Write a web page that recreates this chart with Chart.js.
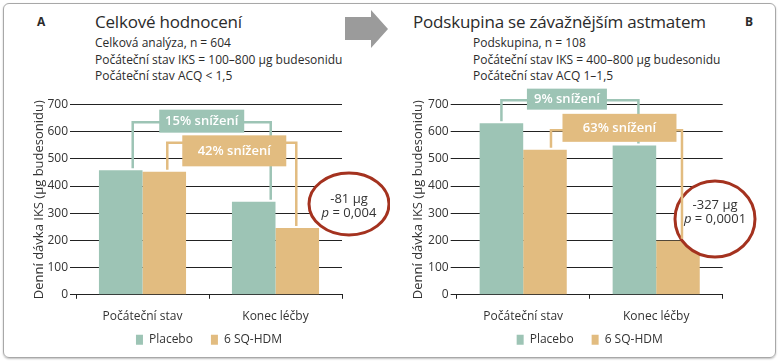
<!DOCTYPE html>
<html>
<head>
<meta charset="utf-8">
<script src="https://cdn.jsdelivr.net/npm/chart.js@4"></script>
<style>
  html, body { margin:0; padding:0; background:#fff; }
  body { width:780px; height:362px; position:relative; overflow:hidden; font-family:"Open Sans", sans-serif; color:#2b2b2b; }
  .frame { position:absolute; left:3px; top:3px; width:771px; height:353px; border:1px solid #a8a8a8; border-radius:6px; box-shadow:0 1px 2px rgba(0,0,0,.25); }
  .panel { position:absolute; top:0; width:390px; height:362px; }
  .letter { position:absolute; top:13px; font-size:12px; font-weight:700; line-height:18px; }
  .title { position:absolute; top:11px; font-size:17px; line-height:22px; white-space:nowrap; letter-spacing:-0.2px; }
  .sub { position:absolute; top:35px; font-size:12px; line-height:16.5px; white-space:nowrap; }
  svg.arrow { position:absolute; left:340px; top:6px; }
</style>
</head>
<body>
<div class="frame"></div>
<div class="letter" style="left:37px">A</div>
<div class="title" style="left:95px">Celkové hodnocení</div>
<div class="sub" style="left:95px">Celková analýza, n = 604<br>Počáteční stav IKS = 100–800 µg budesonidu<br>Počáteční stav ACQ &lt; 1,5</div>
<svg class="arrow" width="52" height="46"><polygon points="5,11 31,11 31,4 48,23 31,42 31,34 5,34" fill="#9b9b9b"/></svg>
<div class="title" style="left:413px">Podskupina se závažnějším astmatem</div>
<div class="sub" style="left:473px">Podskupina, n = 108<br>Počáteční stav IKS = 400–800 µg budesonidu<br>Počáteční stav ACQ 1–1,5</div>
<div class="letter" style="left:745px">B</div>
<div class="panel" style="left:0"><canvas id="left"></canvas></div>
<div class="panel" style="left:390px"><canvas id="right"></canvas></div>
<script>
// data
const categories = ['Počáteční stav', 'Konec léčby'];
const seriesNames = ['Placebo', '6 SQ-HDM'];
const overallPlacebo = [458, 342];
const overallHdm = [453, 246];
const subgroupPlacebo = [631, 549];
const subgroupHdm = [534, 199];
const yMax = 700, yStep = 100;

const GREEN = '#9dc4b5', ORANGE = '#e2bc80', RED = '#a4321f';
const FONT = '"Open Sans", sans-serif';

// brackets, label boxes and the ellipse with the difference
const annotate = {
  id: 'annotate',
  afterLayout(chart, args, opts) {
    // pull the legend up closer to the category labels
    const l = chart.legend;
    if (l) { l.top += opts.legendShift; l.bottom += opts.legendShift; }
  },
  afterDatasetsDraw(chart, args, opts) {
    const ctx = chart.ctx, ys = chart.scales.y, area = chart.chartArea;
    ctx.save();
    // ellipse
    const e = opts.ellipse;
    const ex = area.right + e.dx, ey = ys.getPixelForValue(e.value);
    ctx.beginPath();
    ctx.ellipse(ex, ey, e.rx, e.ry, 0, 0, Math.PI * 2);
    ctx.fillStyle = '#fff'; ctx.fill();
    ctx.lineWidth = 3; ctx.strokeStyle = RED; ctx.stroke();
    ctx.fillStyle = '#333'; ctx.textBaseline = 'middle';
    ctx.font = '13px ' + FONT; ctx.textAlign = 'center';
    ctx.fillText(e.diff, ex, ey + e.textDy - 7.2);
    const rest = ' = ' + e.p;
    ctx.font = 'italic 13px ' + FONT;
    const wp = ctx.measureText('p').width;
    ctx.font = '13px ' + FONT;
    const wr = ctx.measureText(rest).width;
    const sx = ex - (wp + wr) / 2;
    ctx.textAlign = 'left';
    ctx.font = 'italic 13px ' + FONT;
    ctx.fillText('p', sx, ey + e.textDy + 7.2);
    ctx.font = '13px ' + FONT;
    ctx.fillText(rest, sx + wp, ey + e.textDy + 7.2);

    // brackets
    opts.brackets.forEach(b => {
      const bars = chart.getDatasetMeta(b.dataset).data;
      const x0 = bars[0].x + b.dx[0], x1 = bars[1].x + b.dx[1];
      const yt = ys.getPixelForValue(b.top);
      ctx.strokeStyle = b.color; ctx.lineWidth = 2.5;
      ctx.beginPath();
      ctx.moveTo(x0, bars[0].y - 2);
      ctx.lineTo(x0, yt);
      ctx.lineTo(x1, yt);
      ctx.lineTo(x1, bars[1].y - 2);
      ctx.stroke();
      const cx = (x0 + x1) / 2 + b.boxDx, cy = yt + b.boxDy;
      ctx.fillStyle = b.color;
      ctx.fillRect(cx - b.boxW / 2, cy - b.boxH / 2, b.boxW, b.boxH);
      ctx.fillStyle = '#fff'; ctx.textAlign = 'center';
      ctx.font = '600 13px ' + FONT;
      ctx.fillText(b.label, cx, cy);
    });
    ctx.restore();
  }
};

function makeChart(id, placebo, hdm, axisW, titlePad, padRight, ann) {
  return new Chart(document.getElementById(id), {
    type: 'bar',
    data: {
      labels: categories,
      datasets: [
        { label: seriesNames[0], data: placebo, backgroundColor: GREEN },
        { label: seriesNames[1], data: hdm, backgroundColor: ORANGE }
      ]
    },
    options: {
      responsive: false,
      animation: false,
      layout: { padding: { top: 104.5, right: padRight, bottom: -13.2, left: 0 } },
      datasets: { bar: { categoryPercentage: 0.655, barPercentage: 1 } },
      scales: {
        x: {
          grid: { drawOnChartArea: false, tickLength: 4, color: '#222' },
          border: { color: '#222' },
          ticks: { padding: 11, color: '#333', font: { family: FONT, size: 12 } }
        },
        y: {
          min: 0, max: yMax,
          ticks: { stepSize: yStep, padding: 2, color: '#333', font: { family: FONT, size: 12 } },
          grid: { color: '#222', tickLength: 6 },
          border: { display: false },
          title: { display: true, text: 'Denní dávka IKS (µg budesonidu)', color: '#333',
                   font: { family: FONT, size: 13 }, padding: { top: titlePad } },
          afterFit(s) { s.width = axisW; }
        }
      },
      plugins: {
        legend: {
          position: 'bottom', fullSize: false,
          labels: { boxWidth: 7, boxHeight: 10, padding: 18, color: '#333', font: { family: FONT, size: 12 } }
        },
        tooltip: { enabled: false },
        annotate: ann
      }
    },
    plugins: [annotate]
  });
}

document.getElementById('left').width = 390;
document.getElementById('left').height = 362;
document.getElementById('right').width = 390;
document.getElementById('right').height = 362;

makeChart('left', overallPlacebo, overallHdm, 76, 31, 48, {
  legendShift: -19.5,
  ellipse: { value: 334, dx: 7, rx: 40, ry: 31, textDy: 2, diff: '-81 µg', p: '0,004' },
  brackets: [
    { dataset: 0, color: GREEN, top: 635, dx: [12, 17], label: '15% snížení', boxW: 85, boxH: 23, boxDx: 0, boxDy: -1 },
    { dataset: 1, color: ORANGE, top: 559, dx: [3, -1], label: '42% snížení', boxW: 104, boxH: 31, boxDx: 2.5, boxDy: 8 }
  ]
});
makeChart('right', subgroupPlacebo, subgroupHdm, 66.7, 20, 57.3, {
  legendShift: -19.5,
  ellipse: { value: 279, dx: -7.7, rx: 40, ry: 38, textDy: -6.5, diff: '-327 µg', p: '0,0001' },
  brackets: [
    { dataset: 0, color: GREEN, top: 716, dx: [0, 4], label: '9% snížení', boxW: 80, boxH: 21, boxDx: -3, boxDy: -1 },
    { dataset: 1, color: ORANGE, top: 605, dx: [6, 4], label: '63% snížení', boxW: 114, boxH: 28, boxDx: 3, boxDy: -2.5 }
  ]
});
</script>
</body>
</html>
